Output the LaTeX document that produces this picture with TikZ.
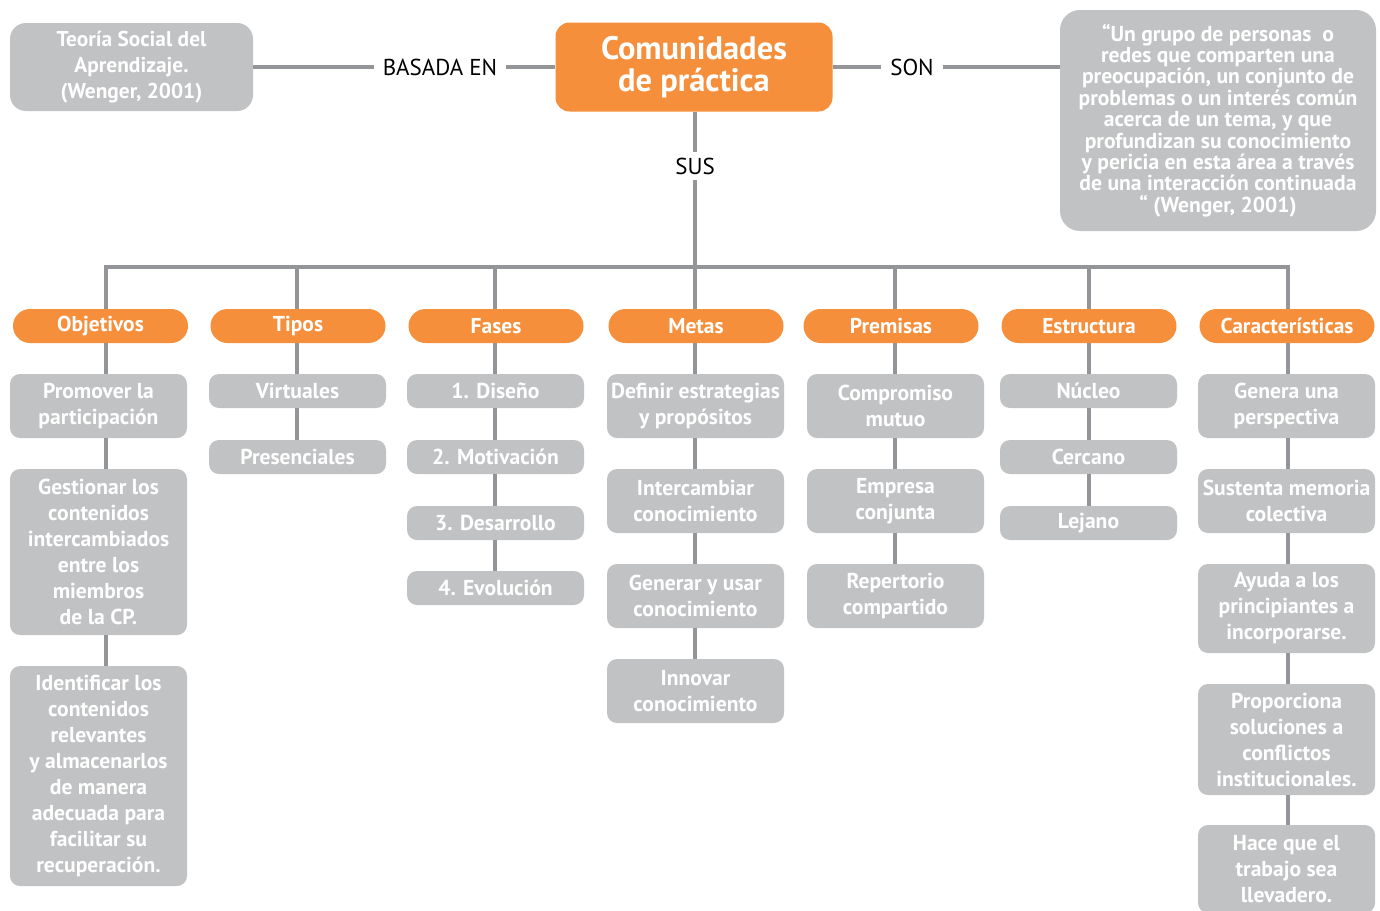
\documentclass[tikz,border=0pt]{standalone}
\usepackage{fontspec}
\setmainfont{PT Sans}
\definecolor{cporange}{HTML}{F58F3B}
\definecolor{cpgray}{HTML}{C1C2C4}
\definecolor{cpline}{HTML}{939598}
\begin{document}
\begin{tikzpicture}[x=1pt,y=-1pt,
  conn/.style={draw=cpline,line width=3.6pt,line join=miter},
  gbox/.style={fill=cpgray,rounded corners=10pt,text=white,font=\bfseries\fontsize{21.6}{26}\selectfont,align=center,inner sep=0pt,minimum width=177pt},
  h1/.style={minimum height=34pt},
  h2/.style={minimum height=64pt},
  pill/.style={fill=cporange,rounded corners=17pt,text=white,font=\bfseries\fontsize{21.5}{24}\selectfont,minimum width=175pt,minimum height=34pt,inner sep=0pt},
  lbl/.style={font=\fontsize{23}{24}\selectfont,text=black,inner sep=0pt,outer sep=9pt}]
\clip (0,0) rectangle (1380,910);
\fill[white] (0,0) rectangle (1380,910);

% top row
\node[gbox,minimum width=243pt,minimum height=88pt,rounded corners=16pt,font=\bfseries\fontsize{21.4}{26}\selectfont] (teo) at (131.5,67) {Teoría Social del\\Aprendizaje.\\(Wenger, 2001)};
\node[fill=cporange,rounded corners=14pt,minimum width=277pt,minimum height=89pt,inner sep=0pt,text=white,font=\bfseries\fontsize{32.5}{32}\selectfont,align=center] (com) at (694,67) {Comunidades\\de práctica};
\node[gbox,minimum width=316pt,minimum height=221pt,rounded corners=20pt,font=\bfseries\fontsize{21.6}{21.4}\selectfont] (quo) at (1218,120.5) {“Un grupo de personas\ \ o\\redes que comparten una\\preocupación, un conjunto de\\problemas o un interés común\\acerca de un tema, y que\\profundizan su conocimiento\\y pericia en esta área a través\\de una interacción continuada\\“ (Wenger, 2001)};
\node[lbl] (bas) at (440,67) {BASADA EN};
\node[lbl] (son) at (912,67) {SON};
\node[lbl,outer sep=6pt] (sus) at (695,166) {SUS};

\draw[conn] (teo.east) -- (bas.west);
\draw[conn] (bas.east) -- (com.west);
\draw[conn] (com.east) -- (son.west);
\draw[conn] (son.east) -- (quo.west |- son.east);
\draw[conn] (sus.north |- com.south) -- (sus.north);

% bus coordinates
\coordinate (cA) at (106,267);
\coordinate (cB) at (297,267);
\coordinate (cC) at (495,267);
\coordinate (cD) at (695,267);
\coordinate (cE) at (895,267);
\coordinate (cF) at (1089,267);
\coordinate (cG) at (1288,267);
\draw[conn] (sus.south) -- (cD);

% category pills
\node[pill] (obj) at (100.5,326) {Objetivos};
\node[pill] (tip) at (298,326) {Tipos};
\node[pill] (fas) at (496,326) {Fases};
\node[pill] (met) at (696,326) {Metas};
\node[pill] (pre) at (891,326) {Premisas};
\node[pill] (est) at (1089,326) {Estructura};
\node[pill] (car) at (1287,326) {Características};

\draw[conn] (cA |- obj.north) -- (cA) -- (cG) -- (cG |- car.north);
\draw[conn] (cB) -- (cB |- tip.north);
\draw[conn] (cC) -- (cC |- fas.north);
\draw[conn] (cD) -- (cD |- met.north);
\draw[conn] (cE) -- (cE |- pre.north);
\draw[conn] (cF) -- (cF |- est.north);

% Objetivos
\node[gbox,h2] (o1) at (98.5,406) {Promover la\\participación};
\node[gbox,minimum height=166pt] (o2) at (98.5,552) {Gestionar los\\contenidos\\intercambiados\\entre los\\miembros\\de la CP.};
\node[gbox,minimum height=220pt] (o3) at (98.5,776) {Identificar los\\contenidos\\relevantes\\y almacenarlos\\de manera\\adecuada para\\facilitar su\\recuperación.};
\draw[conn] (cA |- obj.south) -- (cA |- o1.north);
\draw[conn] (cA |- o1.south) -- (cA |- o2.north);
\draw[conn] (cA |- o2.south) -- (cA |- o3.north);

% Tipos
\node[gbox,h1] (t1) at (297.5,391) {Virtuales};
\node[gbox,h1] (t2) at (297.5,457) {Presenciales};
\draw[conn] (cB |- tip.south) -- (cB |- t1.north);
\draw[conn] (cB |- t1.south) -- (cB |- t2.north);

% Fases
\node[gbox,h1] (f1) at (495.5,391) {1. Diseño};
\node[gbox,h1] (f2) at (495.5,457) {2. Motivación};
\node[gbox,h1] (f3) at (495.5,523) {3. Desarrollo};
\node[gbox,h1] (f4) at (495.5,588) {4. Evolución};
\draw[conn] (cC |- fas.south) -- (cC |- f1.north);
\draw[conn] (cC |- f1.south) -- (cC |- f2.north);
\draw[conn] (cC |- f2.south) -- (cC |- f3.north);
\draw[conn] (cC |- f3.south) -- (cC |- f4.north);

% Metas
\node[gbox,h2] (m1) at (695.5,406) {Definir estrategias\\y propósitos};
\node[gbox,h2] (m2) at (695.5,501) {Intercambiar\\conocimiento};
\node[gbox,h2] (m3) at (695.5,596) {Generar y usar\\conocimiento};
\node[gbox,h2] (m4) at (695.5,691) {Innovar\\conocimiento};
\draw[conn] (cD |- met.south) -- (cD |- m1.north);
\draw[conn] (cD |- m1.south) -- (cD |- m2.north);
\draw[conn] (cD |- m2.south) -- (cD |- m3.north);
\draw[conn] (cD |- m3.south) -- (cD |- m4.north);

% Premisas
\node[gbox,h2] (p1) at (895.5,406) {Compromiso\\mutuo};
\node[gbox,h2] (p2) at (895.5,501) {Empresa\\conjunta};
\node[gbox,h2] (p3) at (895.5,596) {Repertorio\\compartido};
\draw[conn] (cE |- pre.south) -- (cE |- p1.north);
\draw[conn] (cE |- p1.south) -- (cE |- p2.north);
\draw[conn] (cE |- p2.south) -- (cE |- p3.north);

% Estructura
\node[gbox,h1] (e1) at (1088.5,391) {Núcleo};
\node[gbox,h1] (e2) at (1088.5,457) {Cercano};
\node[gbox,h1] (e3) at (1088.5,523) {Lejano};
\draw[conn] (cF |- est.south) -- (cF |- e1.north);
\draw[conn] (cF |- e1.south) -- (cF |- e2.north);
\draw[conn] (cF |- e2.south) -- (cF |- e3.north);

% Caracteristicas
\node[gbox,h2] (k1) at (1286.5,406) {Genera una\\perspectiva};
\node[gbox,h2] (k2) at (1286.5,501) {Sustenta memoria\\colectiva};
\node[gbox,minimum height=89pt] (k3) at (1286.5,608.5) {Ayuda a los\\principiantes a\\incorporarse.};
\node[gbox,minimum height=111pt] (k4) at (1286.5,739.5) {Proporciona\\soluciones a\\conflictos\\institucionales.};
\node[gbox,minimum height=88pt] (k5) at (1286.5,869) {Hace que el\\trabajo sea\\llevadero.};
\draw[conn] (cG |- car.south) -- (cG |- k1.north);
\draw[conn] (cG |- k1.south) -- (cG |- k2.north);
\draw[conn] (cG |- k2.south) -- (cG |- k3.north);
\draw[conn] (cG |- k3.south) -- (cG |- k4.north);
\draw[conn] (cG |- k4.south) -- (cG |- k5.north);
\end{tikzpicture}
\end{document}
